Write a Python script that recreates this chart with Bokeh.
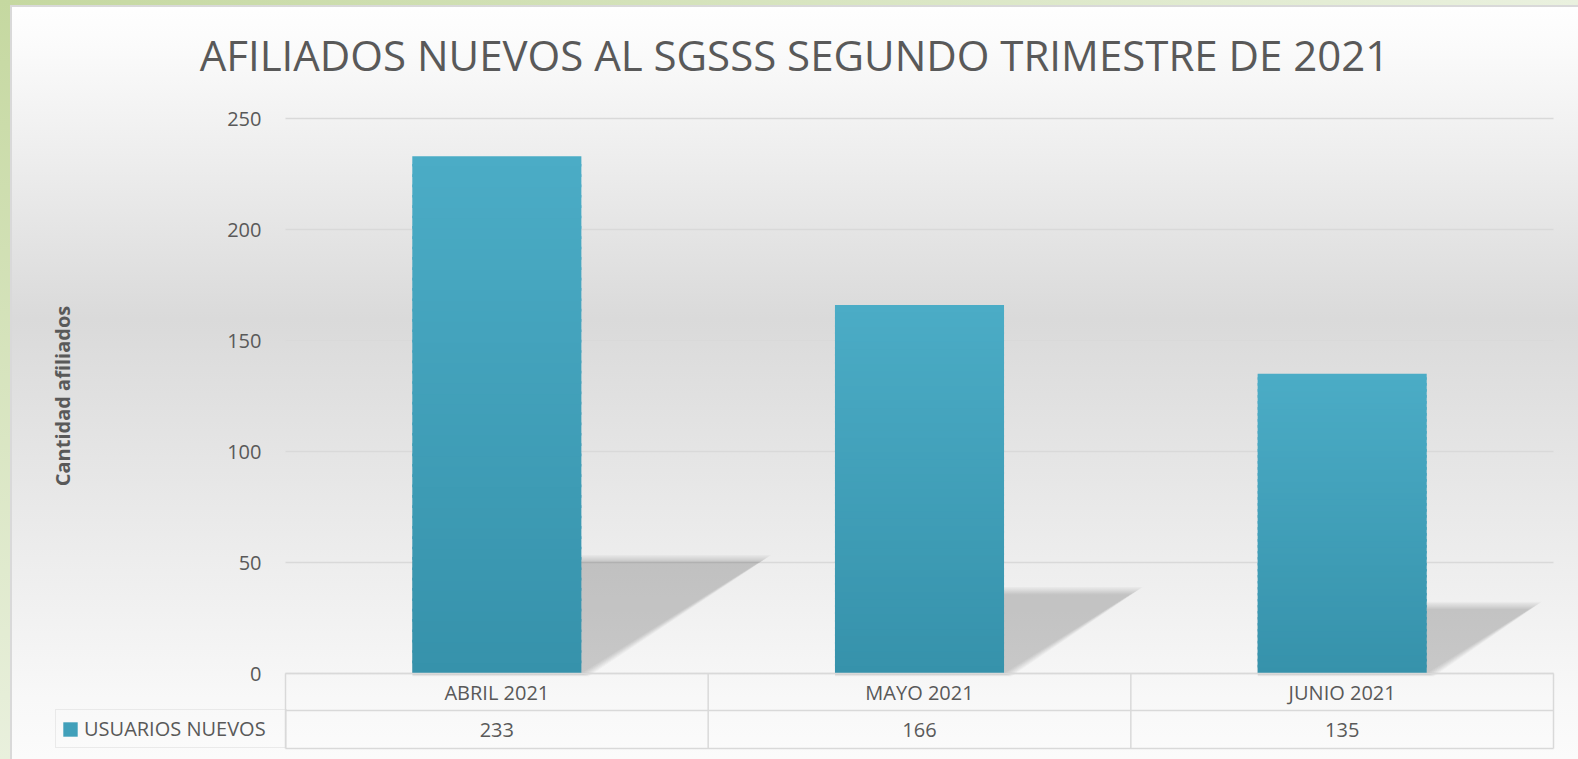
from bokeh.plotting import figure
from bokeh.models import Range1d, FixedTicker, Legend, LegendItem, Label, ColumnDataSource
from bokeh.embed import file_html
from bokeh.resources import INLINE
from bokeh.core.properties import value

# ---------------- data ----------------
TITLE = "AFILIADOS NUEVOS AL SGSSS SEGUNDO TRIMESTRE DE 2021"
categories = ["ABRIL 2021", "MAYO 2021", "JUNIO 2021"]
usuarios_nuevos = [233, 166, 135]
series_name = "USUARIOS NUEVOS"
y_ticks = [0, 50, 100, 150, 200, 250]
y_label = "Cantidad afiliados"

# ---------------- geometry / style ----------------
W, H = 1578, 759
FL, FR, FT, FB = 12, 1556, 8, 750               # frame edges in px
PL = 285                                        # plot-area left edge (px)
CATW = (1553 - 285) / 3                         # px per category
Y0PX = 673
YPX = (673 - 118) / 250                         # px per data unit
FONT = value("Open Sans")
TXT = "#595959"
GRID = "#d9d9d9"
TOP_C = (0x4b, 0xac, 0xc6)
BOT_C = (0x36, 0x92, 0xab)

n = len(categories)
x_range = Range1d(-(PL - FL) / CATW, (FR - PL) / CATW)
y_range = Range1d(-(FB - Y0PX) / YPX, (Y0PX - FT) / YPX)

p = figure(width=W, height=H, x_range=x_range, y_range=y_range,
           output_backend="svg", toolbar_location=None,
           min_border_left=FL, min_border_right=W - FR,
           min_border_top=FT, min_border_bottom=H - FB)
p.border_fill_color = None
p.background_fill_color = None
p.outline_line_color = None
p.styles = {"background": (
    "linear-gradient(to bottom, #c5d8a0, #e9f0dd) 0 0 / 10px 100% no-repeat, "
    "linear-gradient(to right, #c5d8a0, #eaf1df) 0 0 / 100% 5px no-repeat, "
    "linear-gradient(#d9d9d9, #d9d9d9) 10px 5px / 2px 100% no-repeat, "
    "linear-gradient(#d9d9d9, #d9d9d9) 10px 5px / 100% 2px no-repeat, "
    "linear-gradient(to bottom, #ffffff 0%, #fbfbfb 6%, #dadada 42%, #f8f8f8 92%, #fbfbfb 100%)")}

p.xaxis.visible = False
p.xgrid.visible = False
p.ygrid.visible = False
p.yaxis.fixed_location = 0
p.yaxis.bounds = (y_ticks[0], y_ticks[-1])
p.yaxis.ticker = FixedTicker(ticks=y_ticks)
p.yaxis.axis_line_color = None
p.yaxis.major_tick_line_color = None
p.yaxis.minor_tick_line_color = None
p.yaxis.major_label_standoff = 18
p.yaxis.major_label_text_font = "Open Sans"
p.yaxis.major_label_text_font_size = "20px"
p.yaxis.major_label_text_color = TXT
p.yaxis.axis_label = y_label
p.yaxis.axis_label_text_font = "Open Sans"
p.yaxis.axis_label_text_font_size = "20px"
p.yaxis.axis_label_text_font_style = "bold"
p.yaxis.axis_label_text_color = TXT
p.yaxis.axis_label_standoff = 148

# horizontal gridlines across the plot area only
p.segment(x0=[0] * len(y_ticks), y0=y_ticks, x1=[n] * len(y_ticks), y1=y_ticks,
          line_color=GRID, line_width=1.5)

# ---------------- shadows ----------------
SH_K = 0.215
SH_SLOPE = 1.6
for b in [12, 10, 8, 6, 4, 2, 0]:
    xs, ys = [], []
    for i, v in enumerate(usuarios_nuevos):
        xc = i + 0.5
        x0, x1 = xc - 0.2, xc + 0.2
        h = SH_K * v
        dx = SH_SLOPE * h * YPX / CATW
        bx, by = b / CATW, b / YPX
        xs.append([x0, x1 + bx * 0.6, x1 + dx + bx, x0])
        ys.append([-by * 0.25, -by * 0.25, h + by * 0.6, h + by * 0.6])
    p.patches(xs, ys, fill_color="black", fill_alpha=0.027, line_color=None)

# ---------------- bars (vertical gradient) ----------------
N = 50
L, R, B, T, C = [], [], [], [], []
for i, v in enumerate(usuarios_nuevos):
    xc = i + 0.5
    for k in range(N):
        t = (k + 0.5) / N
        col = tuple(int(round(BOT_C[j] + (TOP_C[j] - BOT_C[j]) * t)) for j in range(3))
        L.append(xc - 0.2); R.append(xc + 0.2)
        B.append(v * k / N); T.append(min(v, v * (k + 1) / N + 1.2))
        C.append("#%02x%02x%02x" % col)
p.quad(left="l", right="r", bottom="b", top="t", fill_color="c", line_color=None,
       source=ColumnDataSource(dict(l=L, r=R, b=B, t=T, c=C)))

# ---------------- data table ----------------
row_h = (710 - 673) / YPX
tbl_bot = -(748 - 673) / YPX
seg_x0 = [0, 0, 0] + list(range(n + 1))
seg_x1 = [n, n, n] + list(range(n + 1))
seg_y0 = [0, -row_h, tbl_bot] + [tbl_bot] * (n + 1)
seg_y1 = [0, -row_h, tbl_bot] + [0] * (n + 1)
p.segment(seg_x0, seg_y0, seg_x1, seg_y1, line_color=GRID, line_width=1.5)

xc_list = [i + 0.5 for i in range(n)]
p.text(x=xc_list, y=[-row_h / 2] * n, text=categories, text_align="center",
       text_baseline="middle", text_font=FONT, text_font_size="20px", text_color=TXT)
p.text(x=xc_list, y=[(-row_h + tbl_bot) / 2] * n, text=[str(v) for v in usuarios_nuevos],
       text_align="center", text_baseline="middle", text_font=FONT,
       text_font_size="20px", text_color=TXT)

# legend key cell (zero-size glyph used only for its legend swatch)
key = p.quad(left=[0], right=[0], top=[0], bottom=[0], fill_color="#41a0ba", line_color=None)
legend = Legend(items=[LegendItem(label=series_name, renderers=[key])],
                location=(55 - FL, FB - 748),
                padding=5, margin=0, glyph_width=18, glyph_height=18,
                label_standoff=5, label_width=197, label_height=22,
                label_text_font="Open Sans", label_text_font_size="20px",
                label_text_color=TXT, border_line_color=GRID, border_line_width=1.5,
                background_fill_alpha=0)
p.add_layout(legend, "center")

# ---------------- title ----------------
title = Label(x=(794 - PL) / CATW, y=(Y0PX - 54) / YPX, text=TITLE,
              text_align="center", text_baseline="alphabetic",
              text_font="Open Sans", text_font_size="42px", text_color=TXT)
p.add_layout(title)

open("out.html", "w").write(file_html(p, INLINE))
